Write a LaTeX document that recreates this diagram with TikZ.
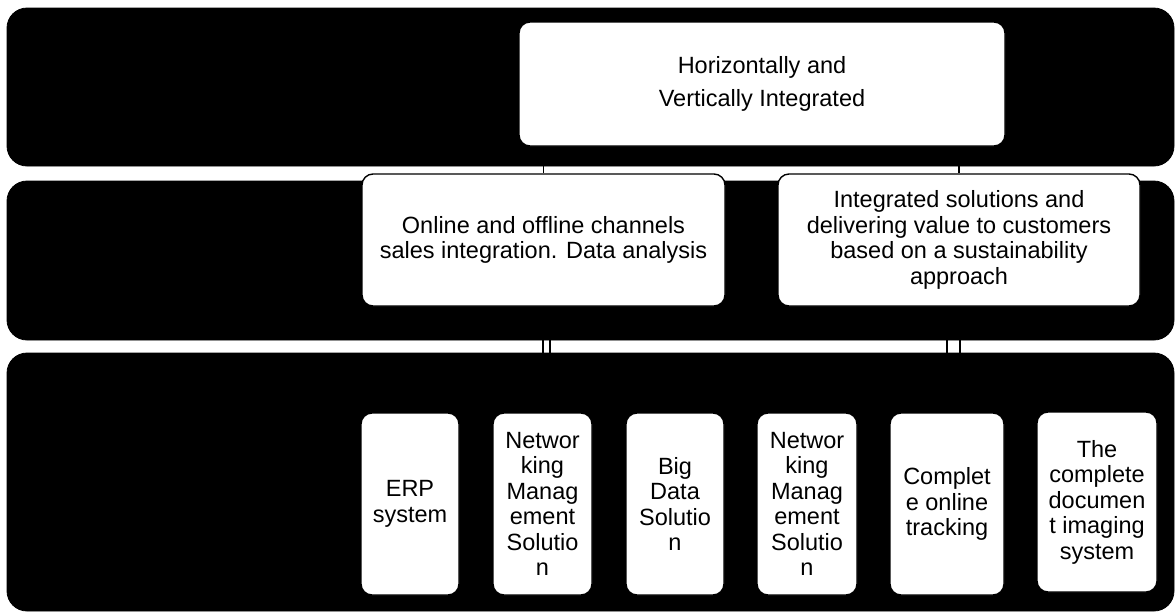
\documentclass[tikz,border=0pt]{standalone}
\usepackage{fontspec}
\setmainfont{Liberation Sans}
\begin{document}
\begin{tikzpicture}[x=1pt,y=-1pt,
  band/.style={fill=black, draw=black, line width=0.8pt, rounded corners=20pt, inner sep=0pt},
  wbox/.style={fill=white, draw=black, line width=1.4pt, rounded corners=11pt, inner sep=0pt,
    align=center, font=\fontsize{23.5}{25.5}\selectfont},
  link/.style={draw=black, line width=2pt}]
\useasboundingbox (0,0) rectangle (1175,614);
% bands
\node[band, minimum width=1167pt, minimum height=158pt] (band1) at (590.5,87) {};
\node[band, minimum width=1167pt, minimum height=159pt] (band2) at (590.5,260.5) {};
\node[band, minimum width=1167pt, minimum height=258pt] (band3) at (590.5,482) {};
% top box
\node[wbox, minimum width=486pt, minimum height=124pt] (top) at (762,84)
  {\raisebox{3pt}{Horizontally and}\\[8pt]\raisebox{3pt}{Vertically Integrated}};
% middle boxes
\node[wbox, minimum width=363pt, minimum height=132pt] (mid1) at (543.5,240)
  {Online and offline channels\\sales integration. Data analysis};
\node[wbox, minimum width=362pt, minimum height=132pt] (mid2) at (959,240)
  {Integrated solutions and\\delivering value to customers\\based on a sustainability\\approach};
% bottom boxes
\node[wbox, minimum width=98pt, minimum height=182pt] (b1) at (410,504) {ERP\\system};
\node[wbox, minimum width=99pt, minimum height=182pt] (b2) at (542.5,504) {Networ\\king\\Manag\\ement\\Solutio\\n};
\node[wbox, minimum width=98pt, minimum height=182pt] (b3) at (675,504) {Big\\Data\\Solutio\\n};
\node[wbox, minimum width=100pt, minimum height=182pt] (b4) at (807,504) {Networ\\king\\Manag\\ement\\Solutio\\n};
\node[wbox, minimum width=114pt, minimum height=182pt] (b5) at (947,504) {Complet\\e online\\tracking};
\node[wbox, minimum width=120pt, minimum height=180pt] (b6) at (1097,502) {The\\complete\\documen\\t imaging\\system};
% connectors top -> middle
\draw[link, line width=1.8pt] (top.south -| mid1.north) -- (mid1.north);
\draw[link, line width=1.8pt] (top.south -| mid2.north) -- (mid2.north);
% connectors middle -> bottom
\coordinate (k1) at (550.3,385);
\coordinate (k2) at (959.5,385);
\draw[link] (mid1.south -| b2.north) -- (b2.north);
\draw[link] (mid1.south -| k1) -- (k1) -| (b1.north);
\draw[link] (k1) -| (b3.north);
\draw[link] (mid2.south -| b5.north) -- (b5.north);
\draw[link] (mid2.south -| k2) -- (k2) -| (b4.north);
\draw[link] (k2) -| (b6.north);
\end{tikzpicture}
\end{document}
